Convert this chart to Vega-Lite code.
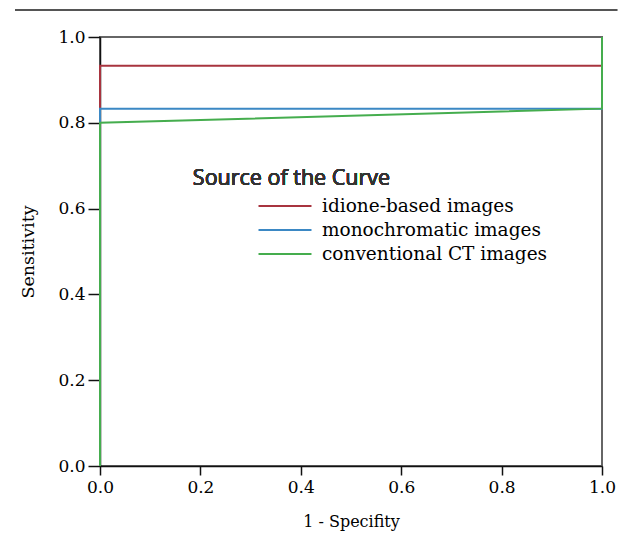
{
  "$schema": "https://vega.github.io/schema/vega-lite/v6.json",
  "width": 502,
  "height": 429,
  "autosize": {"type": "none"},
  "padding": {"left": 100, "top": 37, "right": 30, "bottom": 76},
  "background": "white",
  "config": {
    "view": {"stroke": "#666666", "strokeWidth": 2},
    "axis": {
      "labelFont": "DejaVu Serif",
      "labelFontSize": 17,
      "labelColor": "#000000",
      "labelFlush": false,
      "titleFont": "DejaVu Serif",
      "titleFontSize": 16,
      "titleFontWeight": "normal",
      "titleColor": "#000000",
      "domainColor": "#111111",
      "domainWidth": 1.5,
      "tickColor": "#111111",
      "tickWidth": 1.5,
      "grid": false
    }
  },
  "data": {
    "values": [
      {"curve": "idione-based images", "i": 0, "fpr": 0, "tpr": 0},
      {"curve": "idione-based images", "i": 1, "fpr": 0, "tpr": 0.933},
      {"curve": "idione-based images", "i": 2, "fpr": 1, "tpr": 0.933},
      {"curve": "idione-based images", "i": 3, "fpr": 1, "tpr": 1},
      {"curve": "monochromatic images", "i": 0, "fpr": 0, "tpr": 0},
      {"curve": "monochromatic images", "i": 1, "fpr": 0, "tpr": 0.833},
      {"curve": "monochromatic images", "i": 2, "fpr": 1, "tpr": 0.833},
      {"curve": "monochromatic images", "i": 3, "fpr": 1, "tpr": 1},
      {"curve": "conventional CT images", "i": 0, "fpr": 0, "tpr": 0},
      {"curve": "conventional CT images", "i": 1, "fpr": 0, "tpr": 0.8},
      {"curve": "conventional CT images", "i": 2, "fpr": 1, "tpr": 0.833},
      {"curve": "conventional CT images", "i": 3, "fpr": 1, "tpr": 1}
    ]
  },
  "layer": [
    {
      "mark": {"type": "line", "strokeWidth": 2},
      "encoding": {
        "x": {
          "field": "fpr", "type": "quantitative",
          "scale": {"domain": [0, 1], "nice": false, "zero": false},
          "axis": {"title": "1 - Specifity", "values": [0, 0.2, 0.4, 0.6, 0.8, 1], "format": ".1f", "tickSize": 9, "labelPadding": 4, "titlePadding": 18}
        },
        "y": {
          "field": "tpr", "type": "quantitative",
          "scale": {"domain": [0, 1], "nice": false, "zero": false},
          "axis": {"title": "Sensitivity", "titleFontSize": 17.5, "values": [0, 0.2, 0.4, 0.6, 0.8, 1], "format": ".1f", "tickSize": 12, "labelPadding": 3, "titlePadding": 20}
        },
        "color": {
          "field": "curve", "type": "nominal",
          "sort": ["idione-based images", "monochromatic images", "conventional CT images"],
          "scale": {
            "domain": ["idione-based images", "monochromatic images", "conventional CT images"],
            "range": ["#a8343f", "#3b88c4", "#45ad4e"]
          },
          "legend": {
            "title": null,
            "orient": "none",
            "legendX": 173,
            "legendY": 157,
            "padding": 0,
            "symbolType": "M-2.5,0H2.5",
            "symbolSize": 449,
            "symbolStrokeWidth": 2,
            "rowPadding": 2,
            "labelOffset": 25,
            "labelFont": "DejaVu Serif",
            "labelFontSize": 18.5,
            "labelColor": "#000000",
            "labelLimit": 400
          }
        },
        "order": {"field": "i", "type": "quantitative"}
      }
    },
    {
      "mark": {"type": "text", "align": "left", "baseline": "middle", "font": "Open Sans", "fontSize": 21.5, "fontWeight": "normal", "color": "#333333"},
      "encoding": {
        "x": {"datum": 0.185, "type": "quantitative"},
        "y": {"datum": 0.669, "type": "quantitative"},
        "text": {"value": "Source of the Curve"}
      }
    },
    {
      "mark": {"type": "rule", "color": "#555555", "strokeWidth": 2, "clip": false},
      "encoding": {
        "x": {"datum": -0.169, "type": "quantitative"},
        "x2": {"datum": 1.03},
        "y": {"datum": 1.063, "type": "quantitative"}
      }
    }
  ]
}
